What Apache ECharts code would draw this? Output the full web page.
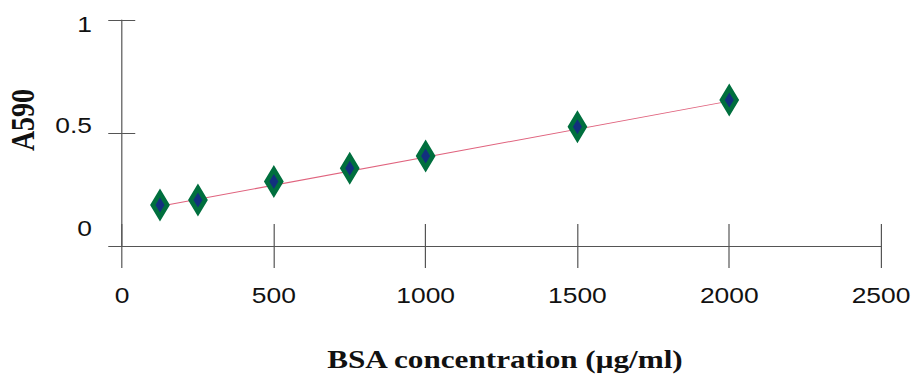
<!DOCTYPE html>
<html>
<head>
<meta charset="utf-8">
<script src="https://cdn.jsdelivr.net/npm/echarts@6/dist/echarts.min.js"></script>
<style>
    html, body { margin: 0; padding: 0; background: #fff; overflow: hidden; }
    /* the original figure is stretched sideways, so draw narrow and widen it */
    #chart { width: 769px; height: 382px; transform: scaleX(1.2); transform-origin: 0 0; }
</style>
</head>
<body>
<div id="chart"></div>
<script>
    'use strict';

    // BSA standard curve
    var concentration = [125, 250, 500, 750, 1000, 1500, 2000];
    var absorbance = [0.181, 0.204, 0.285, 0.344, 0.398, 0.528, 0.646];

    // trendline end points
    var trendX = [125, 2000];
    var trendY = [0.176, 0.641];

    var xTitle = 'BSA concentration (\u03bcg/ml)';
    var yTitle = 'A590';

    var axisColor = '#555';
    var textColor = '#111';
    var labelFont = 'Liberation Sans, Arial, sans-serif';
    var titleFont = 'Liberation Serif, Times New Roman, serif';

    var chart = echarts.init(document.getElementById('chart'), null, { renderer: 'svg' });

    function pairs(xs, ys) {
        return xs.map(function (x, i) { return [x, ys[i]]; });
    }

    // the y labels sit at odd heights in the original
    var yRich = {
        zero: { padding: [0, 0, 36, 0], fontSize: 22, fontFamily: labelFont, color: textColor },
        half: { padding: [0, 0, 16, 0], fontSize: 22, fontFamily: labelFont, color: textColor },
        one: { padding: [8, 0, 0, 0], fontSize: 22, fontFamily: labelFont, color: textColor }
    };

    var option = {
        animation: false,
        backgroundColor: '#fff',
        grid: { left: 101.7, right: 34.8, top: 20, bottom: 136, containLabel: false, outerBoundsMode: 'none' },
        xAxis: [{
            type: 'value', min: 0, max: 2500, interval: 500,
            axisLine: { show: true, lineStyle: { color: axisColor, width: 1 } },
            axisTick: { show: true, inside: false, length: 22, lineStyle: { color: axisColor } },
            axisLabel: {
                margin: 38, fontSize: 22, fontFamily: labelFont, color: textColor,
                formatter: function (v) { return String(v); }
            },
            splitLine: { show: false }
        }, {
            type: 'value', min: 0, max: 2500, interval: 500, position: 'bottom',
            axisLine: { show: false },
            axisTick: { show: true, inside: true, length: 22, lineStyle: { color: axisColor } },
            axisLabel: { show: false },
            splitLine: { show: false }
        }],
        yAxis: [{
            type: 'value', min: 0, max: 1, interval: 0.5,
            axisLine: { show: true, lineStyle: { color: axisColor, width: 1 } },
            axisTick: { show: true, inside: false, length: 11.5, lineStyle: { color: axisColor } },
            axisLabel: {
                margin: 25,
                formatter: function (v) {
                    if (v === 0) return '{zero|0}';
                    if (v === 0.5) return '{half|0.5}';
                    return '{one|' + v + '}';
                },
                rich: yRich
            },
            splitLine: { show: false }
        }, {
            type: 'value', min: 0, max: 1, interval: 0.5, position: 'left',
            axisLine: { show: false },
            axisTick: { show: true, inside: true, length: 11, lineStyle: { color: axisColor } },
            axisLabel: { show: false },
            splitLine: { show: false }
        }],
        graphic: [{
            type: 'text', x: 420.8, y: 359,
            style: { text: xTitle, font: 'bold 26px ' + titleFont, fill: textColor, align: 'center', verticalAlign: 'middle' }
        }, {
            type: 'text', x: 18.5, y: 120, rotation: Math.PI / 2,
            style: { text: yTitle, font: 'bold 28px ' + titleFont, fill: textColor, align: 'center', verticalAlign: 'middle' }
        }],
        series: [{
            name: 'trend',
            type: 'line',
            data: pairs(trendX, trendY),
            symbol: 'none',
            lineStyle: { color: '#e0637e', width: 1 },
            z: 2
        }, {
            name: 'A590',
            type: 'scatter',
            data: pairs(concentration, absorbance),
            symbol: 'diamond',
            symbolSize: [12, 24],
            itemStyle: { color: '#12307e', borderColor: '#006f3e', borderWidth: 4.5, opacity: 1 },
            z: 3
        }]
    };

    chart.setOption(option);
</script>
</body>
</html>
